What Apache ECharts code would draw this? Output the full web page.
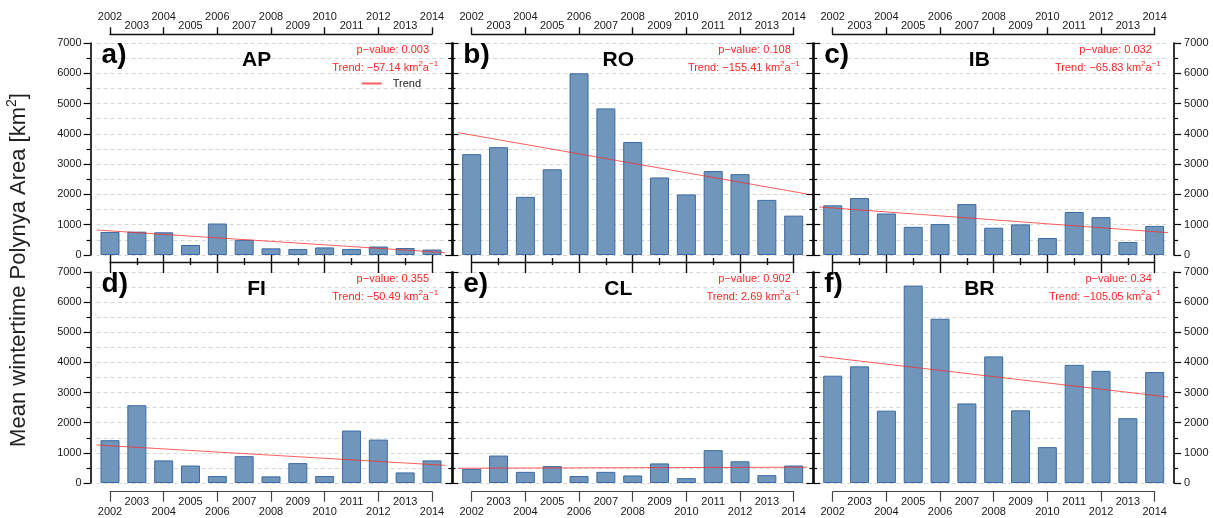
<!DOCTYPE html>
<html>
<head>
<meta charset="utf-8">
<script src="https://cdn.jsdelivr.net/npm/echarts@6/dist/echarts.min.js"></script>
<style>
html,body{margin:0;padding:0;background:#fff;}
#chart{width:1213px;height:518px;}
</style>
</head>
<body>
<div id="chart"></div>
<script>
// ---------------- data ----------------
const years = ['2002','2003','2004','2005','2006','2007','2008','2009','2010','2011','2012','2013','2014'];
const AP = [760, 770, 750, 330, 1040, 500, 220, 200, 250, 200, 280, 230, 180];
const RO = [3330, 3560, 1920, 2830, 6000, 4840, 3730, 2560, 2000, 2770, 2670, 1820, 1300];
const IB = [1640, 1880, 1370, 930, 1020, 1680, 900, 1010, 560, 1420, 1250, 430, 960];
const FI = [1420, 2580, 750, 580, 230, 890, 220, 660, 230, 1740, 1440, 350, 750];
const CL = [470, 910, 370, 560, 230, 370, 250, 650, 160, 1090, 720, 260, 580];
const BR = [3560, 3870, 2400, 6550, 5450, 2640, 4200, 2410, 1190, 3920, 3720, 2150, 3680];
const regionNames = ['AP', 'RO', 'IB', 'FI', 'CL', 'BR'];
const panelLetters = ['a)', 'b)', 'c)', 'd)', 'e)', 'f)'];
const pValues = ['0.003', '0.108', '0.032', '0.355', '0.902', '0.34'];
const trendSlopes = ['\u221257.14', '\u2212155.41', '\u221265.83', '\u221250.49', '2.69', '\u2212105.05'];
// trend line values read at the left (2001.5) and right (2014.5) plot edges
const trendStart = [825, 4040, 1585, 1261, 490, 4203];
const trendEnd = [76, 2014, 737, 586, 525, 2853];
const seriesValues = [AP, RO, IB, FI, CL, BR];

// ---------------- layout ----------------
const FONT = 'Liberation Sans, Arial, Helvetica, sans-serif';
const colLeft = [96.6, 458.3, 819.3];
const plotW = 348.8;
const rowTop = [43, 272];
const rowH = [212, 211];
const axInset = 13.4, axW = 322;
const even = (i) => i % 2 === 0;
const odd = (i) => i % 2 === 1;
const gridLine = { color: '#d6d6d6', type: [4, 3], width: 1 };
const blk = { color: '#111', width: 1.4 };
const plain = (v) => String(v);

const option = {
  animation: false,
  backgroundColor: '#fff',
  textStyle: { fontFamily: FONT },
  grid: [], xAxis: [], yAxis: [], series: [], graphic: [],
  legend: {
    data: ['Trend'], left: 361.7, top: 78, padding: 0,
    itemWidth: 20, itemHeight: 2, icon: 'rect', selectedMode: false,
    textStyle: { fontSize: 11, color: '#222', fontFamily: FONT, padding: [0, 0, 0, 6] }
  }
};
function push(arr, o) { arr.push(o); return arr.length - 1; }

for (let p = 0; p < 6; p++) {
  const r = Math.floor(p / 3), c = p % 3;
  const gi = push(option.grid, { left: colLeft[c], top: rowTop[r], width: plotW, height: rowH[r] });
  const xCat = push(option.xAxis, { type: 'category', gridIndex: gi, data: years, boundaryGap: true, show: false });
  const xVal = push(option.xAxis, { type: 'value', gridIndex: gi, min: 2001.5, max: 2014.5, show: false });
  const yCommon = {
    type: 'value', gridIndex: gi, min: 0, max: 7000, interval: 1000, offset: 6,
    axisLine: { show: true, lineStyle: { color: '#000', width: 1.6 } },
    axisTick: { show: true, length: 7, lineStyle: { color: '#000', width: 1.2 } },
    minorTick: { show: true, splitNumber: 2, length: 4, lineStyle: { color: '#000', width: 1.2 } }
  };
  const yL = push(option.yAxis, Object.assign({}, yCommon, {
    position: 'left',
    axisLabel: { show: c === 0, margin: 9, fontSize: 11, color: '#1a1a1a', fontFamily: FONT, formatter: plain },
    splitLine: { show: true, lineStyle: gridLine },
    minorSplitLine: { show: true, lineStyle: gridLine }
  }));
  push(option.yAxis, Object.assign({}, yCommon, {
    position: 'right',
    axisLabel: { show: c === 2, margin: 10, fontSize: 11, color: '#1a1a1a', fontFamily: FONT, formatter: plain },
    splitLine: { show: false }, minorSplitLine: { show: false }
  }));
  option.series.push({
    type: 'bar', name: regionNames[p], xAxisIndex: xCat, yAxisIndex: yL,
    data: seriesValues[p], barWidth: 19,
    itemStyle: { color: '#7096bb', borderColor: '#3b6ba1', borderWidth: 1 }
  });
  option.series.push({
    type: 'line', name: 'Trend', xAxisIndex: xVal, yAxisIndex: yL,
    data: [[2001.5, trendStart[p]], [2014.5, trendEnd[p]]],
    symbol: 'none', color: 'rgba(255,40,40,0.75)', silent: true, z: 5,
    lineStyle: { color: 'rgba(255,40,40,0.75)', width: 1 }
  });

  const top = rowTop[r];
  option.graphic.push({
    type: 'text', x: colLeft[c] + 5, y: top + 12.5, z: 10,
    style: { text: panelLetters[p], fontSize: 28, fontWeight: 'bold', fontFamily: FONT, fill: '#000', align: 'left', verticalAlign: 'middle' }
  });
  option.graphic.push({
    type: 'text', x: colLeft[c] + 160, y: top + 17, z: 10,
    style: { text: regionNames[p], fontSize: 21, fontWeight: 'bold', fontFamily: FONT, fill: '#000', align: 'center', verticalAlign: 'middle' }
  });
  option.graphic.push({
    type: 'text', x: colLeft[c] + 332.5, y: top + 7, z: 10,
    style: { text: 'p\u2212value: ' + pValues[p], fontSize: 11, fontFamily: FONT, fill: '#ff2626', align: 'right', verticalAlign: 'middle' }
  });
  option.graphic.push({
    type: 'text', x: colLeft[c] + 341.5, y: top + 24.5, z: 10,
    style: {
      text: 'Trend: ' + trendSlopes[p] + ' km{sup|2}a{sup|\u22121}',
      fontSize: 11, lineHeight: 15, fontFamily: FONT, fill: '#ff2626', align: 'right', verticalAlign: 'middle',
      rich: { sup: { fontSize: 8, lineHeight: 9, verticalAlign: 'top', fill: '#ff2626', fontFamily: FONT } }
    }
  });
}

// year axes (span 2002 -> 2014)
for (let c = 0; c < 3; c++) {
  const L = colLeft[c] + axInset;
  // top axis of top row
  let g = push(option.grid, { left: L, width: axW, top: 33.3, height: 1 });
  push(option.yAxis, { type: 'value', gridIndex: g, show: false });
  push(option.xAxis, {
    type: 'category', gridIndex: g, position: 'top', data: years, boundaryGap: false,
    axisLine: { show: true, lineStyle: blk },
    axisTick: { show: true, interval: even, length: 7, lineStyle: blk },
    axisLabel: { interval: even, margin: 11, fontSize: 11, color: '#1a1a1a', fontFamily: FONT },
    splitLine: { show: false }
  });
  push(option.xAxis, {
    type: 'category', gridIndex: g, position: 'top', data: years, boundaryGap: false,
    axisLine: { show: false }, axisTick: { show: false },
    axisLabel: { interval: odd, margin: 1.5, fontSize: 11, color: '#1a1a1a', fontFamily: FONT },
    splitLine: { show: false }
  });
  // middle axis between rows
  g = push(option.grid, { left: L, width: axW, top: 254, height: 1 });
  push(option.yAxis, { type: 'value', gridIndex: g, show: false });
  push(option.xAxis, {
    type: 'category', gridIndex: g, position: 'bottom', data: years, boundaryGap: false, offset: 0,
    axisLine: { show: false }, axisLabel: { show: false },
    axisTick: { show: true, interval: even, length: 18, lineStyle: blk }, splitLine: { show: false }
  });
  push(option.xAxis, {
    type: 'category', gridIndex: g, position: 'bottom', data: years, boundaryGap: false, offset: 3,
    axisLine: { show: false }, axisLabel: { show: false },
    axisTick: { show: true, interval: odd, length: 7, lineStyle: blk }, splitLine: { show: false }
  });
  push(option.xAxis, {
    type: 'category', gridIndex: g, position: 'bottom', data: years, boundaryGap: false, offset: 7.3,
    axisLine: { show: true, lineStyle: blk }, axisLabel: { show: false },
    axisTick: { show: false }, splitLine: { show: false }
  });
  // bottom axis of bottom row
  g = push(option.grid, { left: L, width: axW, top: 490.7, height: 1 });
  push(option.yAxis, { type: 'value', gridIndex: g, show: false });
  push(option.xAxis, {
    type: 'category', gridIndex: g, position: 'bottom', data: years, boundaryGap: false,
    axisLine: { show: true, lineStyle: { color: '#444', width: 1.2 } },
    axisTick: { show: true, interval: even, length: 10, lineStyle: { color: '#444', width: 1.2 } },
    axisLabel: { interval: even, margin: 15, fontSize: 11, color: '#1a1a1a', fontFamily: FONT },
    splitLine: { show: false }
  });
  push(option.xAxis, {
    type: 'category', gridIndex: g, position: 'bottom', data: years, boundaryGap: false,
    axisLine: { show: false }, axisTick: { show: false },
    axisLabel: { interval: odd, margin: 5, fontSize: 11, color: '#1a1a1a', fontFamily: FONT },
    splitLine: { show: false }
  });
}

// y-axis title
option.graphic.push({
  type: 'text', x: 19, y: 270, rotation: Math.PI / 2,
  style: {
    text: 'Mean wintertime Polynya Area [km{s|2}]',
    fontSize: 22, lineHeight: 28, fontFamily: FONT, fill: '#222', align: 'center', verticalAlign: 'middle',
    rich: { s: { fontSize: 14, lineHeight: 15, verticalAlign: 'top', fill: '#222', fontFamily: FONT } }
  }
});

const chart = echarts.init(document.getElementById('chart'), null, { renderer: 'canvas' });
chart.setOption(option);
</script>
</body>
</html>
